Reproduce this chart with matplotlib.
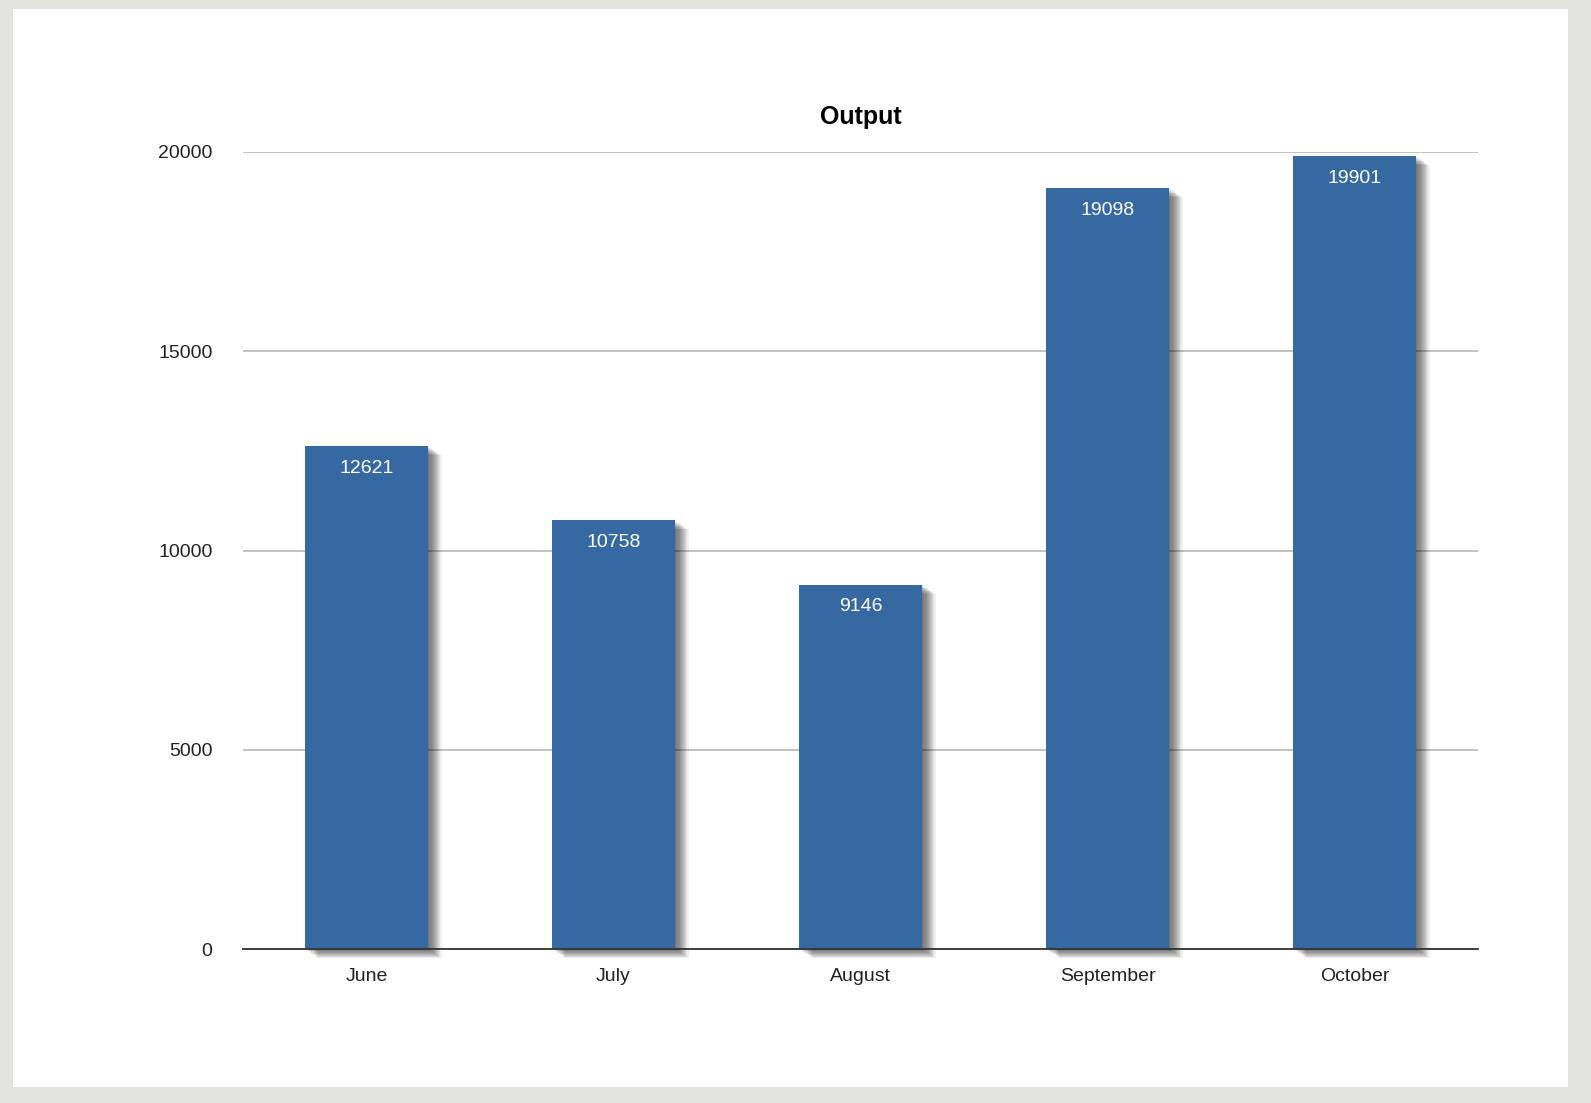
import matplotlib.pyplot as plt
import matplotlib.patheffects as pe
from matplotlib.patches import Rectangle

# Datos del gráfico
months = ['June', 'July', 'August', 'September', 'October']
output = [12621, 10758, 9146, 19098, 19901]
y_ticks = [0, 5000, 10000, 15000, 20000]

plt.rcParams['font.family'] = ['Liberation Sans', 'DejaVu Sans']

W, H = 1591, 1103
fig = plt.figure(figsize=(W / 100, H / 100), dpi=100)
fig.patch.set_facecolor('#e3e3df')
# panel blanco (detrás de los ejes)
fig.patches.append(Rectangle((13 / W, 1 - 1087 / H), (1568 - 13) / W, (1087 - 9) / H,
                             transform=fig.transFigure, facecolor='white',
                             edgecolor='none', zorder=-10))

ax = fig.add_axes([243 / W, 1 - 949 / H, (1478 - 243) / W, (949 - 152) / H])
ax.set_facecolor('none')

# sombra difusa aproximada con varias capas
shadow = []
for d in range(1, 13):
    shadow.append(pe.SimplePatchShadow(offset=(d * 0.8, -d * 0.55),
                                       shadow_rgbFace='black', alpha=0.06))
shadow.append(pe.Normal())

x = range(len(months))
bars = ax.bar(x, output, width=0.5, color='#3668a2', zorder=3, clip_on=False)
for b in bars:
    b.set_path_effects(shadow)

for xi, v in zip(x, output):
    ax.annotate(str(v), (xi, v), xytext=(0, -16), textcoords='offset points',
                ha='center', va='center', color='white', fontsize=14, zorder=5)

ax.set_xlim(-0.5, len(months) - 0.5)
ax.set_ylim(0, 20000)
ax.set_yticks(y_ticks)
ax.set_xticks(list(x))
ax.set_xticklabels(months)
ax.tick_params(axis='y', length=0, pad=22, labelsize=14, labelcolor='#222222')
ax.tick_params(axis='x', length=0, pad=14, labelsize=14, labelcolor='#222222')

ax.yaxis.grid(True, color='#b8b8b8', linewidth=1.2, zorder=1)
ax.set_axisbelow(True)
for s in ['top', 'right', 'left']:
    ax.spines[s].set_visible(False)
ax.spines['bottom'].set_color('#333333')
ax.spines['bottom'].set_linewidth(1.3)
ax.spines['bottom'].set_zorder(4)

ax.set_title('Output', fontsize=18, fontweight='bold', pad=20)

fig.savefig('out.png', dpi=100, facecolor=fig.get_facecolor())
